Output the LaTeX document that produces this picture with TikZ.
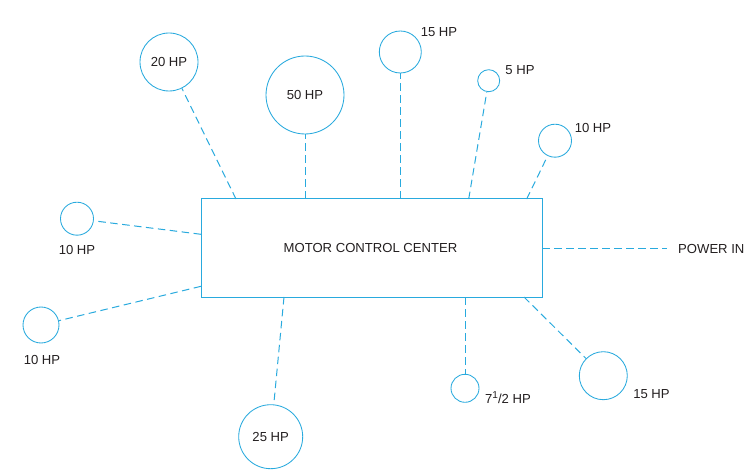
\documentclass[tikz,border=0pt]{standalone}
\usepackage{fontspec}
\setmainfont{Liberation Sans}
\begin{document}
\begin{tikzpicture}[x=1pt,y=-1pt,
  every node/.style={font=\fontsize{13.1}{15}\selectfont, text=txt},
  motor/.style={circle, draw=ln, line width=0.85pt, inner sep=0pt},
  feed/.style={draw=ln, line width=1pt, dash pattern=on 7.5pt off 4.5pt},
  lbl/.style={inner sep=0pt}]
\definecolor{ln}{RGB}{41,170,222}
\definecolor{txt}{RGB}{35,31,32}
\fill[white] (0,0) rectangle (750,473);
\useasboundingbox (0,0) rectangle (750,473);

% Motor control center
\node[draw=ln, line width=1pt, minimum width=341pt, minimum height=98pt, inner sep=0pt] (mcc) at (371.5,248) {};
\node[lbl] (mcctext) at (370.5,247.5) {MOTOR CONTROL CENTER};

% motors
\node[motor, minimum size=58pt] (m20) at (169,62) {20 HP};
\node[motor, minimum size=78pt] (m50) at (305,95) {50 HP};
\node[motor, minimum size=42pt] (m15a) at (400.3,52) {};
\node[motor, minimum size=22pt] (m5) at (488.7,80.7) {};
\node[motor, minimum size=33pt] (m10a) at (555,140.7) {};
\node[motor, minimum size=33pt] (m10b) at (77,218.7) {};
\node[motor, minimum size=36pt] (m10c) at (41,325) {};
\node[motor, minimum size=64pt] (m25) at (270.7,436.7) {25 HP};
\node[motor, minimum size=28pt] (m75) at (465,388.3) {};
\node[motor, minimum size=48pt] (m15b) at (603.3,375.7) {};

% labels
\node[lbl] (l15a) at (439,32) {15 HP};
\node[lbl] (l5) at (520,70.5) {5 HP};
\node[lbl] (l10a) at (593,127.5) {10 HP};
\node[lbl] (l10b) at (77,250) {10 HP};
\node[lbl] (l10c) at (42,360) {10 HP};
\node[lbl, anchor=base west] (l75) at (485,403) {7\raisebox{4.5pt}{\fontsize{10}{10}\selectfont 1}/2 HP};
\node[lbl] (l15b) at (651.5,394) {15 HP};
\node[lbl, anchor=west] (lpow) at (678,249) {POWER IN};

% attachment points on the MCC
\coordinate (p20) at (236,199);
\coordinate (p50) at (305,199);
\coordinate (p15a) at (400.3,199);
\coordinate (p5) at (468.7,199);
\coordinate (p10a) at (526.7,199);
\coordinate (p10b) at (201,234.3);
\coordinate (p10c) at (201,286.3);
\coordinate (p25) at (284,297);
\coordinate (p75) at (465,297);
\coordinate (p15b) at (524,297);
\coordinate (ppow) at (542,249);
\coordinate (pend) at (667,249);

% feeders
\draw[feed] (p20) -- (m20);
\draw[feed] (p50) -- (m50);
\draw[feed] (p15a) -- (m15a);
\draw[feed] (p5) -- (m5);
\draw[feed] (p10a) -- (m10a);
\draw[feed] (p10b) -- (m10b);
\draw[feed] (p10c) -- (m10c);
\draw[feed] (p25) -- (m25);
\draw[feed] (p75) -- (m75);
\draw[feed] (p15b) -- (m15b);
\draw[feed] (ppow) -- (pend);
\end{tikzpicture}
\end{document}
